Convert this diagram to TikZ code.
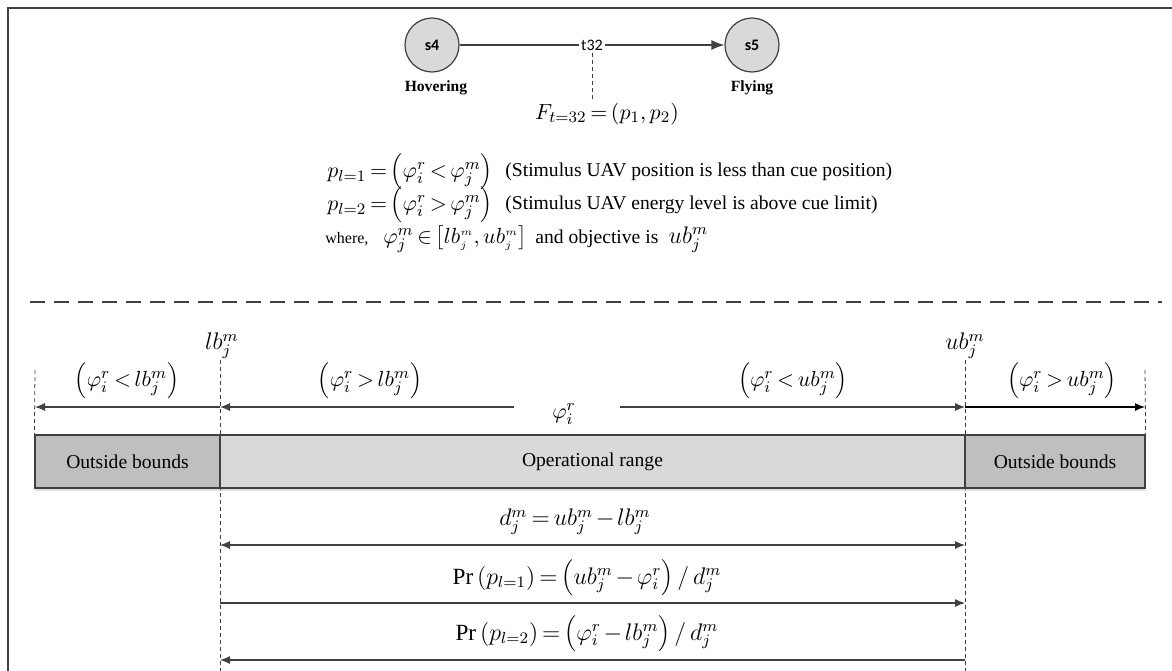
\documentclass[tikz,border=0pt]{standalone}
\usepackage{fontspec}
\setmainfont{Liberation Serif}
\newfontfamily\labelfont{Carlito}
\usetikzlibrary{arrows.meta, positioning, calc}
\definecolor{colLine}{RGB}{64,64,64}
\definecolor{colState}{RGB}{217,217,217}
\definecolor{colRange}{RGB}{217,217,217}
\definecolor{colOut}{RGB}{191,191,191}
\newcommand{\eqsize}{\fontsize{11}{13}\selectfont\thickmuskip=3mu\medmuskip=2mu}
\newcommand{\txtsize}{\fontsize{9.8}{11}\selectfont}
\tikzset{
    frame/.style={draw=colLine, line width=0.8pt},
    state/.style={circle, draw=colLine, fill=colState, line width=0.6pt,
        minimum size=27pt, inner sep=0pt, font=\labelfont\bfseries\fontsize{8}{9}\selectfont},
    statename/.style={font=\bfseries\fontsize{7.8}{9}\selectfont, inner sep=1pt},
    trans/.style={fill=white, inner sep=1pt, font=\labelfont\fontsize{8}{9}\selectfont},
    eq/.style={inner sep=1pt, font=\eqsize},
    bigeq/.style={inner sep=1pt, font=\eqsize\fontsize{11.6}{13}\selectfont},
    note/.style={inner sep=1pt, font=\txtsize},
    rangebox/.style={rectangle, draw=colLine, line width=0.6pt, minimum height=26.5pt,
        inner sep=0pt, font=\txtsize},
    line/.style={draw=colLine, line width=0.6pt},
    arrow/.style={-{Latex[length=5pt, width=4pt]}, draw=colLine, line width=0.6pt},
    firing/.style={-{Latex[length=6.5pt, width=5pt]}, draw=colLine, line width=0.6pt},
    dblarrow/.style={{Latex[length=5pt, width=4pt]}-{Latex[length=5pt, width=4pt]}, draw=colLine, line width=0.6pt},
    guide/.style={draw=colLine, line width=0.4pt, dash pattern=on 2pt off 1.5pt},
    sepline/.style={draw=colLine, line width=0.6pt, dash pattern=on 7.5pt off 4.5pt}
}

\begin{document}
\begin{tikzpicture}[x=0.5pt, y=-0.5pt]

    \useasboundingbox (0,0) rectangle (1172,670);
    % outer frame, cut by the page edge
    \draw[frame] (8,690) -- (8,8) -- (1190,8);

    % transition t32 between the two states
    \node[state] (s4) at (432,45) {s4};
    \node[state] (s5) at (752,45) {s5};
    \node[statename] (hov) at (436,88) {Hovering};
    \node[statename] (fly) at (752,88) {Flying};
    \node[trans] (t32) at (592,45) {t32};
    \draw[line] (s4) -- (t32);
    \draw[firing] (t32) -- (s5);
    \node[eq] (fml) at (607,114) {$F_{t=32}=\left(p_1,p_2\right)$};
    \draw[guide] (t32.south) -- (t32.south |- fml.north);

    % firing conditions
    \node[eq, anchor=west] (p1) at (325,172) {$p_{l=1}=\left(\varphi_i^r<\varphi_j^m\right)$};
    \node[note, anchor=west] (p1txt) at (503,172) {(Stimulus UAV position is less than cue position)};
    \node[eq, anchor=west] (p2) at (325,205) {$p_{l=2}=\left(\varphi_i^r>\varphi_j^m\right)$};
    \node[note, anchor=west] (p2txt) at (503,205) {(Stimulus UAV energy level is above cue limit)};
    \node[note, anchor=west, font=\fontsize{8}{9}\selectfont] (where) at (323,239) {where,};
    \node[eq, right=5pt of where.east, anchor=west] (obj) {$\varphi_j^m\in\left[lb_{\scriptscriptstyle j}^{\scriptscriptstyle m},ub_{\scriptscriptstyle j}^{\scriptscriptstyle m}\right]$\,\txtsize{} and objective is\; \fontsize{12}{13}\selectfont$ub_j^m$};

    \coordinate (sepL) at (30,302);
    \coordinate (sepR) at (1162,302);
    \draw[sepline] (sepL) -- (sepR);

    % bounds of the range
    \node[bigeq] (lb) at (222,346) {$lb_j^m$};
    \node[bigeq] (ub) at (965,346) {$ub_j^m$};
    \coordinate (lbTop) at (220,360);
    \coordinate (lbBot) at (220,672);
    \coordinate (ubTop) at (965,360);
    \coordinate (ubBot) at (965,672);
    \coordinate (loTop) at (35,370);
    \coordinate (hiTop) at (1145,370);

    \node[eq] (c1) at (127,381) {$\left(\varphi_i^r<lb_j^m\right)$};
    \node[eq] (c2) at (370,381) {$\left(\varphi_i^r>lb_j^m\right)$};
    \node[eq] (c3) at (793,381) {$\left(\varphi_i^r<ub_j^m\right)$};
    \node[eq] (c4) at (1062,381) {$\left(\varphi_i^r>ub_j^m\right)$};

    \coordinate (aL) at (35,407);
    \coordinate (aLB) at (220,407);
    \coordinate (aUB) at (965,407);
    \coordinate (aR) at (1145,407);
    \coordinate (gL) at (514,407);
    \coordinate (gR) at (620,407);
    \node[eq] (phi) at (564,414) {$\varphi_i^r$};
    \draw[arrow] (aLB) -- (aL);
    \draw[arrow] (gL) -- (aLB);
    \draw[arrow] (gR) -- (aUB);
    \draw[arrow, draw=black] (aUB) -- (aR);

    % range bar
    \fill[black!12] (35,488) rectangle (1145,491);
    \node[rangebox, fill=colOut, minimum width=92.5pt] (outL) at (127.5,461.5) {Outside bounds};
    \node[rangebox, fill=colRange, minimum width=372.5pt] (range) at (592.5,461.5) {Operational range};
    \node[rangebox, fill=colOut, minimum width=90pt] (outR) at (1055,461.5) {Outside bounds};

    \draw[guide] (loTop) -- (outL.north west);
    \draw[guide] (hiTop) -- (outR.north east);
    \draw[guide] (lbTop) -- (lbBot);
    \draw[guide] (ubTop) -- (ubBot);

    % width and probabilities
    \coordinate (dL) at (220,545);
    \coordinate (dR) at (965,545);
    \coordinate (q1L) at (220,603);
    \coordinate (q1R) at (965,603);
    \coordinate (q2L) at (220,660);
    \coordinate (q2R) at (965,660);
    \node[bigeq] (dist) at (575,522) {$d_j^m=ub_j^m-lb_j^m$};
    \node[bigeq] (pr1) at (587,578) {$\mathrm{Pr}\left(p_{l=1}\right)=\left(ub_j^m-\varphi_i^r\right)/\,d_j^m$};
    \node[bigeq] (pr2) at (587,634) {$\mathrm{Pr}\left(p_{l=2}\right)=\left(\varphi_i^r-lb_j^m\right)/\,d_j^m$};
    \draw[dblarrow] (dL) -- (dR);
    \draw[arrow] (q1L) -- (q1R);
    \draw[arrow] (q2R) -- (q2L);

\end{tikzpicture}
\end{document}
